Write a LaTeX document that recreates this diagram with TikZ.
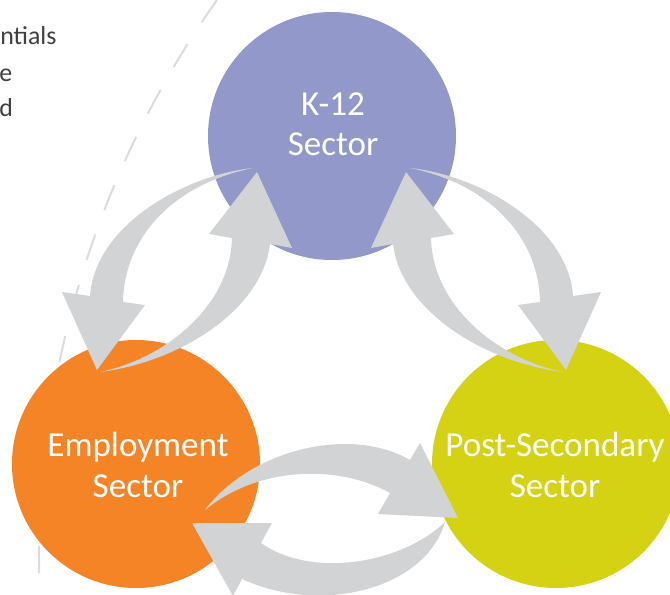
\documentclass[tikz,border=0pt]{standalone}
\usepackage{fontspec}
\setmainfont{Carlito}
\definecolor{k12col}{HTML}{9298C9}
\definecolor{empcol}{HTML}{F58427}
\definecolor{postcol}{HTML}{D4D212}
\definecolor{arrowgray}{HTML}{D1D3D4}
\definecolor{dashgray}{HTML}{DCDCDC}
\definecolor{textgray}{HTML}{404040}
\begin{document}
\begin{tikzpicture}[x=0.75pt,y=-0.75pt,
  sector/.style={circle, minimum size=186pt, inner sep=0pt},
  sectortext/.style={text=white, align=center, font=\fontsize{26.3}{30.4}\selectfont, inner sep=0pt, anchor=base},
  sidetext/.style={text=textgray, font=\fontsize{19.4}{27}\selectfont, inner sep=0pt, anchor=base west},
  bigarrow/.style={fill=arrowgray},
  dashline/.style={draw=dashgray, line width=1.5pt, dash pattern=on 20.25pt off 19.5pt}]
\useasboundingbox (0,0) rectangle (670,595);
\clip (0,0) rectangle (670,595);

% dashed boundary arc
\draw[dashline] (217,0) arc[start angle=144.74, end angle=181.2, radius=727.5pt];

% side text (cut off at the left edge)
\node[sidetext] (t1) at (0,45) {ntials};
\node[sidetext] (t2) at (-1,81.5) {e};
\node[sidetext] (t3) at (-1,116.5) {d};

% sectors
\node[sector, fill=k12col] (k12) at (332,136) {};
\node[sector, fill=empcol] (emp) at (136,464) {};
\node[sector, fill=postcol] (post) at (556,464) {};

% K-12 <-> Employment pair, and its mirror K-12 <-> Post-Secondary
\foreach \sh/\sc in {0/1, 663/-1}{
\begin{scope}[shift={(\sh,0)}, xscale=\sc]
\fill[bigarrow] (253,168) .. controls (185,175) and (95,225) .. (90,296)
  -- (62,292) -- (97,370) -- (145,305) -- (123,302)
  .. controls (124,240) and (170,185) .. (253,168) -- cycle;
\fill[bigarrow] (100,372) .. controls (180,362) and (262,310) .. (270,244)
  -- (292,248) -- (257,172) -- (209,234) -- (232,238)
  .. controls (230,310) and (160,360) .. (100,372) -- cycle;
\end{scope}
}

% Employment <-> Post-Secondary pair
\fill[bigarrow] (205,510) .. controls (250,450) and (350,425) .. (410,460)
  -- (420,443) -- (458,518) -- (378,514) -- (390,493)
  .. controls (340,465) and (260,465) .. (205,510) -- cycle;
\fill[bigarrow] (445,522) .. controls (425,590) and (320,615) .. (242,579)
  -- (233,596) -- (192,523) -- (272,523) -- (261,543)
  .. controls (310,578) and (400,565) .. (445,522) -- cycle;

% sector labels
\node[sectortext] (k12t) at (333,156) {K-12\\Sector};
\node[sectortext] (empt) at (138,497) {Employment\\Sector};
\node[sectortext] (postt) at (555,497) {Post-Secondary\\Sector};
\end{tikzpicture}
\end{document}
